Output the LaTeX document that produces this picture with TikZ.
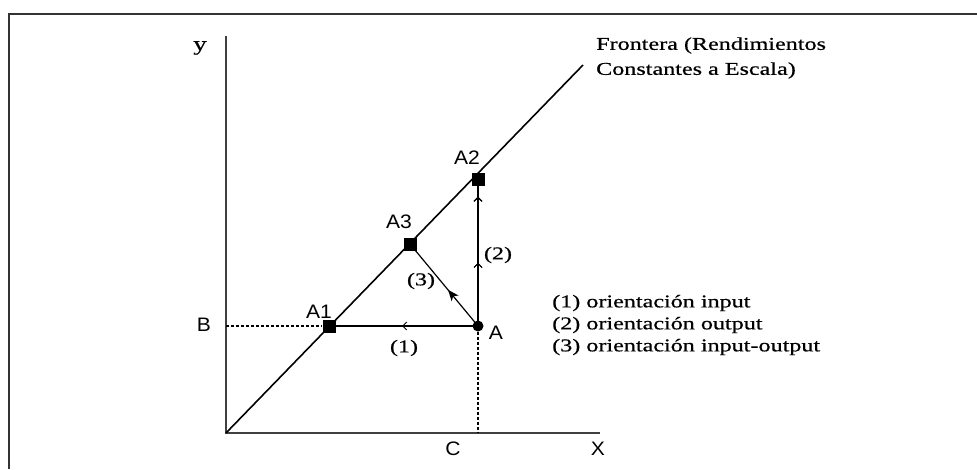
\documentclass[tikz,border=0pt]{standalone}
\usepackage{fontspec}
\usetikzlibrary{decorations.markings,arrows.meta}
\newfontfamily\lserif[FakeStretch=1.34,FakeBold=0.6]{Liberation Serif}
\newfontfamily\lsans[FakeStretch=1.08]{Liberation Sans}
\tikzset{
  axis/.style={line width=1.5pt, black!75},
  frontier/.style={line width=1.6pt, black},
  seg/.style={line width=1.2pt, black},
  guide/.style={line width=1.2pt, black, dash pattern=on 3pt off 2pt},
  sqpt/.style={fill=black, draw=none, minimum size=13pt, inner sep=0pt, rectangle},
  dotpt/.style={fill=black, draw=none, minimum size=11pt, inner sep=0pt, circle},
  sanslbl/.style={font=\lsans\fontsize{19.5}{21}\selectfont, inner sep=0pt},
  seriflbl/.style={font=\lserif\fontsize{18}{22}\selectfont, inner sep=0pt},
  chev/.style={decoration={markings, mark=at position #1 with {\arrow{Straight Barb[length=4pt,width=8pt,line width=1pt]}}}, postaction={decorate}},
  barb/.style={decoration={markings, mark=at position #1 with {\arrow{Stealth[length=11pt,width=9pt,inset=3pt]}}}, postaction={decorate}}
}
\begin{document}
\begin{tikzpicture}[x=1pt,y=-1pt]
\useasboundingbox (0,0) rectangle (977,469);
% frame
\draw[line width=2pt, black!80] (8.5,469) -- (8.5,13.5) -- (977,13.5);
% named points
\coordinate (O) at (226,433);
\coordinate (Ytop) at (226,36);
\coordinate (Xend) at (600,433);
\coordinate (Fend) at (583,65);
\coordinate (Bp) at (226,326);
\coordinate (Cp) at (478,433);
% axes
\draw[axis] (Ytop) -- (O) -- (Xend);
% frontier
\draw[frontier] (O) -- (Fend);
% points
\node[dotpt] (A) at (478,326) {};
\node[sqpt] (A1) at (329,326) {};
\node[sqpt] (A2) at (478,179) {};
\node[sqpt] (A3) at (410,244) {};
% guides
\draw[guide] (Bp) -- (A1.west);
\draw[guide] (A) -- (Cp);
% orientation segments
\draw[seg, chev=0.51] (A.center) -- (A1.center);
\draw[seg, chev=0.43, chev=0.88] (A.center) -- (A2.center);
\draw[seg, barb=0.44] (A.center) -- (A3.center);
% labels
\node[sanslbl] (lA1) at (319,312) {A1};
\node[sanslbl] (lA2) at (467,158) {A2};
\node[sanslbl] (lA3) at (399,222) {A3};
\node[sanslbl] (lA) at (496,333) {A};
\node[sanslbl] (lB) at (204,325) {B};
\node[sanslbl] (lC) at (453,449) {C};
\node[sanslbl] (lX) at (598,449) {X};
\node[font=\lserif\fontsize{20}{22}\selectfont, inner sep=0pt] (ly) at (200,48) {y};
\node[seriflbl] (l1) at (404,348) {(1)};
\node[seriflbl] (l2) at (498,255) {(2)};
\node[seriflbl] (l3) at (421,281) {(3)};
\node[seriflbl, anchor=west, align=left, font=\lserif\fontsize{18}{25}\selectfont] (front) at (596,58) {Frontera (Rendimientos\\Constantes a Escala)};
\node[seriflbl, anchor=west, align=left] (legend) at (552,325) {(1) orientación input\\(2) orientación output\\(3) orientación input-output};
\end{tikzpicture}
\end{document}
